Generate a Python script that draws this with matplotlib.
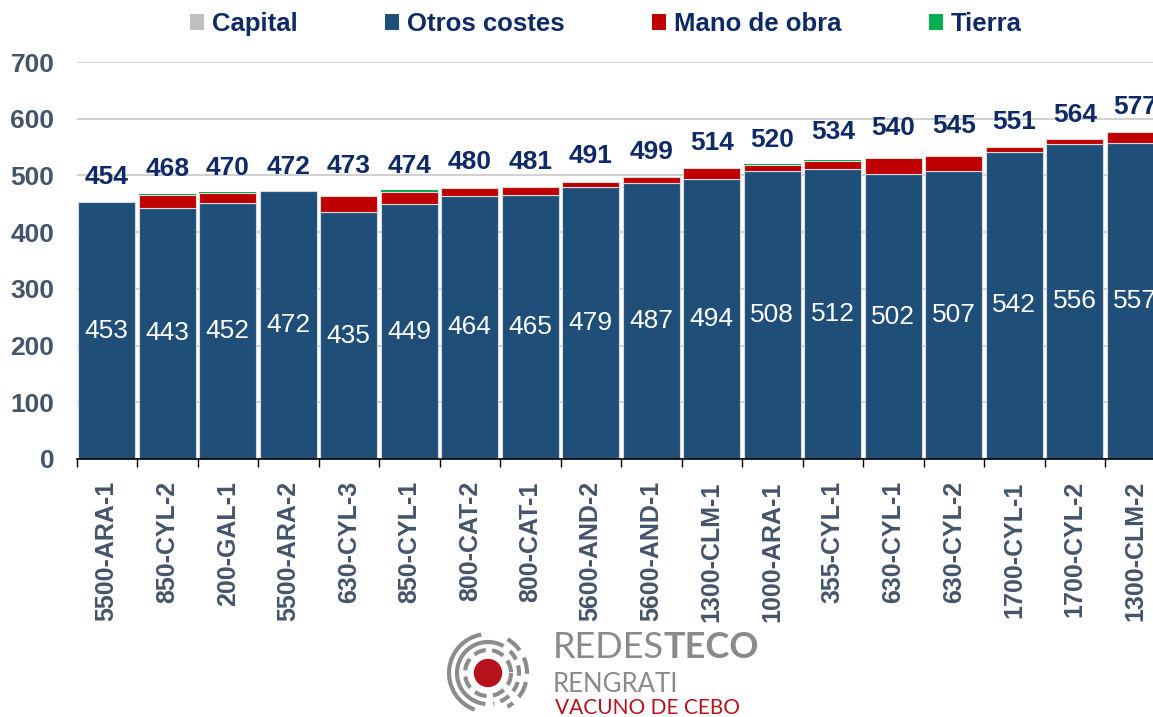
import matplotlib
matplotlib.use("Agg")
import matplotlib.pyplot as plt
from matplotlib.patches import Patch, Circle, Arc
import numpy as np

plt.rcParams['font.family'] = ['Liberation Sans', 'DejaVu Sans']

categories = ["5500-ARA-1", "850-CYL-2", "200-GAL-1", "5500-ARA-2", "630-CYL-3",
              "850-CYL-1", "800-CAT-2", "800-CAT-1", "5600-AND-2", "5600-AND-1",
              "1300-CLM-1", "1000-ARA-1", "355-CYL-1", "630-CYL-1", "630-CYL-2",
              "1700-CYL-1", "1700-CYL-2", "1300-CLM-2"]
otros_costes = [453, 443, 452, 472, 435, 449, 464, 465, 479, 487, 494, 508, 512, 502, 507, 542, 556, 557]
mano_de_obra = [0, 22, 17, 0, 29, 22, 14, 14, 10, 10, 19, 10, 13, 28, 28, 8, 9, 19]
tierra = [0, 2, 1, 0, 0, 3, 0, 0, 0, 0, 0, 2, 3, 0, 0, 0, 0, 0]
capital = [0] * 18
totales = [454, 468, 470, 472, 473, 474, 480, 481, 491, 499, 514, 520, 534, 540, 545, 551, 564, 577]
y_ticks = [0, 100, 200, 300, 400, 500, 600, 700]

C_CAP = "#bfbfbf"
C_OTR = "#1f4e79"
C_MAN = "#c00000"
C_TIE = "#00b050"
NAVY = "#0f2a66"
AXC = "#44546a"

W, H = 1153, 717
fig = plt.figure(figsize=(W / 100, H / 100), dpi=100)
left_px, right_px, bot_px, top_px = 76.5, 1165.5, 459, 62
ax = fig.add_axes([left_px / W, (H - bot_px) / H, (right_px - left_px) / W, (bot_px - top_px) / H])

x = np.arange(len(categories))
otr = np.array(otros_costes, float)
man = np.array(mano_de_obra, float)
tie = np.array(tierra, float)
cap = np.array(capital, float)
bw = 0.95
ax.bar(x, otr, bw, color=C_OTR, zorder=3, edgecolor="#d9d9d9", linewidth=0.8)
ax.bar(x, man, bw, bottom=otr, color=C_MAN, zorder=3, edgecolor="#d9d9d9", linewidth=np.where(man > 0, 0.8, 0))
ax.bar(x, tie, bw, bottom=otr + man, color=C_TIE, zorder=3, linewidth=0)
ax.bar(x, cap, bw, bottom=otr + man + tie, color=C_CAP, zorder=3, linewidth=0)

for xi, v in zip(x, otros_costes):
    ax.text(xi, v / 2, str(v), ha="center", va="center", color="white", fontsize=19, zorder=4)
for xi, t in zip(x, totales):
    ax.annotate(str(t), (xi, t), xytext=(0, 17.5), textcoords="offset points", ha="center", va="center",
                color=NAVY, fontsize=19, fontweight="bold", zorder=4, annotation_clip=False)

ax.set_xlim(-0.5, len(categories) - 0.5)
ax.set_ylim(0, 700)
ax.set_yticks(y_ticks)
ax.set_yticklabels([str(v) for v in y_ticks], fontsize=19, fontweight="bold", color=AXC)
ax.tick_params(axis="y", length=0, pad=16)
ax.yaxis.grid(True, color="#c8c8c8", linewidth=1.2, zorder=0)
ax.set_axisbelow(True)
ax.set_xticks(x)
ax.set_xticklabels(categories, rotation=90, fontsize=18, fontweight="bold", color=AXC, va="top", ha="center")
ax.tick_params(axis="x", length=0, pad=16)
ax.set_xticks(np.arange(-0.5, len(categories)), minor=True)
ax.tick_params(axis="x", which="minor", length=6, width=1, color="black", direction="out")
for s in ["left", "right", "top"]:
    ax.spines[s].set_visible(False)
ax.spines["bottom"].set_color("black")
ax.spines["bottom"].set_linewidth(1.2)
ax.spines["bottom"].set_zorder(5)

handles = [Patch(facecolor=C_CAP), Patch(facecolor=C_OTR), Patch(facecolor=C_MAN), Patch(facecolor=C_TIE)]
labels = ["Capital", "Otros costes", "Mano de obra", "Tierra"]
fig.legend(handles, labels, loc="center", bbox_to_anchor=(606 / W, 1 - 24 / H), ncol=4, frameon=False,
           prop=dict(size=18.5, weight="bold"), labelcolor=NAVY, handlelength=0.55, handleheight=0.55,
           handletextpad=0.3, columnspacing=3.4)

# logo
lax = fig.add_axes([430 / W, 0, 120 / W, 90 / H])
lax.set_xlim(430, 550)
lax.set_ylim(717, 627)
lax.set_aspect("equal")
lax.axis("off")
lax.add_patch(Circle((488, 673), 13.5, color="#b5121b"))
grey = "#8c8c8c"
lax.add_patch(Arc((488, 673), 46, 46, theta1=0, theta2=360, color=grey, lw=3, linestyle=(0, (3, 1.5))))
lax.add_patch(Arc((488, 673), 62, 62, theta1=95, theta2=300, color=grey, lw=3))
lax.add_patch(Arc((488, 673), 62, 62, theta1=-45, theta2=80, color=grey, lw=3, linestyle=(0, (2.5, 1.5))))
lax.add_patch(Arc((488, 673), 78, 78, theta1=110, theta2=260, color=grey, lw=3))
lax.add_patch(Arc((488, 673), 78, 78, theta1=-60, theta2=60, color=grey, lw=3, linestyle=(0, (4, 2))))

t1 = fig.text(553 / W, 1 - 648 / H, "REDES", fontsize=26, color="#8a8a8a", fontfamily="Lato",
              fontweight="normal", va="center", ha="left")
fig.canvas.draw()
bb = t1.get_window_extent()
fig.text(bb.x1 / W, 1 - 648 / H, "TECO", fontsize=26, color="#8a8a8a", fontfamily="Lato",
         fontweight="bold", va="center", ha="left")
fig.text(553 / W, 1 - 684 / H, "RENGRATI", fontsize=18.5, color="#8a8a8a", fontfamily="Lato",
         fontweight="normal", va="center", ha="left")
fig.text(555 / W, 1 - 708 / H, "VACUNO DE CEBO", fontsize=15, color="#b5121b", fontfamily="Lato",
         va="center", ha="left")

fig.savefig("out.png", dpi=100)
